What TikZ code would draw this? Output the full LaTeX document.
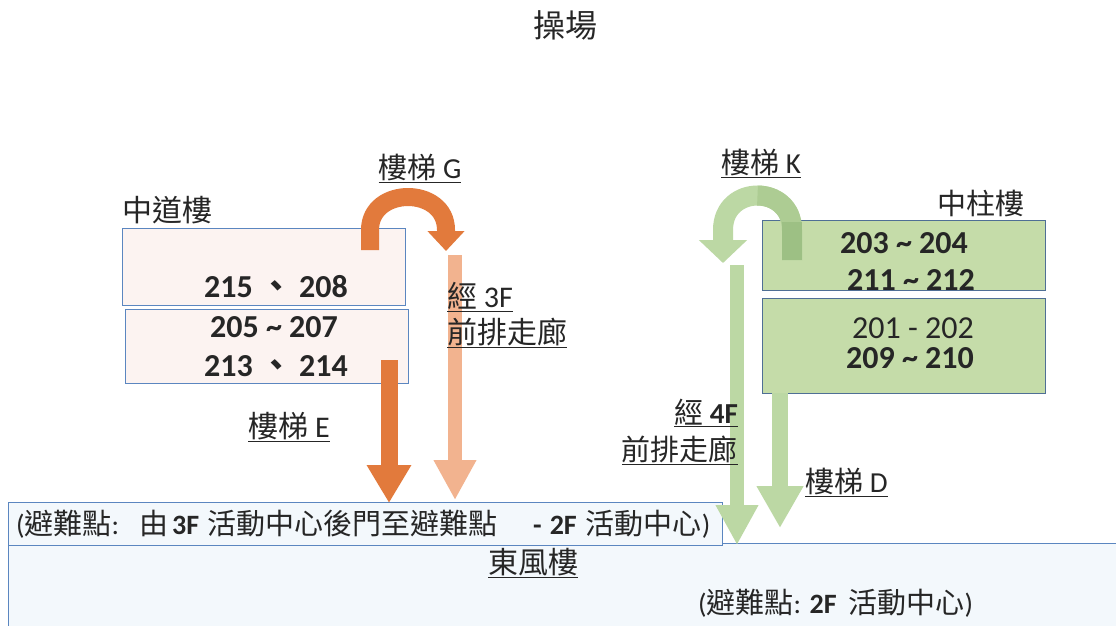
\documentclass[tikz,border=0pt]{standalone}
\usepackage{fontspec}
\setmainfont{Carlito}
\newfontfamily\cjk{Noto Sans CJK TC}
\newcommand\cjt[1]{{\fontsize{29}{30}\selectfont\cjk #1}}
\usetikzlibrary{arrows.meta}
\definecolor{bordblue}{HTML}{5B86C0}
\definecolor{bordgreen}{HTML}{4F6F95}
\definecolor{pinkfill}{HTML}{FCF3F1}
\definecolor{bluefill}{HTML}{F3F8FC}
\definecolor{greenfill}{HTML}{C5DCA9}
\definecolor{orangeD}{HTML}{E27A3C}
\definecolor{orangeL}{HTML}{F2B38F}
\definecolor{greenA}{HTML}{BCD8A4}
\definecolor{greenM}{HTML}{ADCC93}
\definecolor{greenB}{HTML}{9DC084}
\tikzset{
  box/.style={draw=bordblue, line width=1.4pt, inner sep=0pt, anchor=north west},
  gbox/.style={draw=bordgreen, line width=1.4pt, fill=greenfill, inner sep=0pt, anchor=north west},
  num/.style={font=\fontsize{32}{33}\selectfont\bfseries, inner sep=0pt, text=black!85},
  numr/.style={font=\fontsize{32}{33}\selectfont, inner sep=0pt, text=black!85},
  lbl/.style={font=\fontsize{29}{30}\selectfont, inner sep=0pt, text=black!85},
  lblb/.style={font=\fontsize{30}{31}\selectfont, inner sep=0pt, text=black!85},
  small/.style={font=\fontsize{28}{29}\selectfont, inner sep=0pt, text=black!85},
}
\begin{document}
\begin{tikzpicture}[x=1pt,y=-1pt]
\useasboundingbox (0,0) rectangle (1116,625);
\fill[white] (0,0) rectangle (1116,625);

% title
\node[font=\fontsize{32}{33}\selectfont, inner sep=0pt, text=black!85] (field) at (565,25) {\cjk 操場};

% Zhongdao building
\node[lblb, anchor=west] (zdlbl) at (122,210) {\cjk 中道樓};
\node[box, fill=pinkfill, minimum width=283pt, minimum height=77pt] (zdA) at (122,228) {};
\node[box, fill=pinkfill, minimum width=283pt, minimum height=74pt] (zdB) at (125,309) {};
\node[num] (tA) at (276,287) {215 {\cjk 、} 208};
\node[num] (tB1) at (274,327) {205 \textasciitilde\ 207};
\node[num] (tB2) at (276,366) {213 {\cjk 、} 214};

% Zhongzhu building
\node[lbl, anchor=east] (zzlbl) at (1025,203) {\cjk 中柱樓};
\node[gbox, minimum width=283pt, minimum height=70pt] (zzA) at (762,220) {};
\node[gbox, minimum width=283pt, minimum height=95pt] (zzB) at (762,298) {};
\node[num] (tC1) at (904,243) {203 \textasciitilde\ 204};
\node[num] (tC2) at (911,280) {211 \textasciitilde\ 212};
\node[numr] (tD1) at (913,328) {201 - 202};
\node[num] (tD2) at (910,358) {209 \textasciitilde\ 210};

% bottom boxes
\node[box, fill=bluefill, minimum width=1112pt, minimum height=84pt] (east) at (8,543) {};
\node[box, fill=bluefill, minimum width=714pt, minimum height=43pt] (ev1) at (8,502) {};
\node[small, anchor=west] (ev1t) at (16,524) {(\cjt{避難點}:\hspace*{20pt}\cjt{由}\hspace*{4pt}\textbf{3F}\hspace*{8pt}\cjt{活動中心後門至避難點}\hspace*{36pt}\textbf{-}\hspace*{8pt}\textbf{2F}\hspace*{9pt}\cjt{活動中心})};

% coordinates for arrows
\coordinate (gS) at (370,250);
\coordinate (gE) at (446,251);
\coordinate (pS) at (455,255);
\coordinate (pE) at (455,500);
\coordinate (eS) at (389,360);
\coordinate (eE) at (389,503);
\coordinate (kS) at (792,260);
\coordinate (kE) at (723,263);
\coordinate (g1S) at (737,265);
\coordinate (g1E) at (737,545);
\coordinate (g2S) at (780,393);
\coordinate (g2E) at (780,528);

% orange arrows
\draw[orangeD, line width=18pt, -{Triangle[width=36pt,length=20pt]}]
  (gS) -- (370,230) .. controls (370,186) and (446,186) .. (446,230) -- (gE);
\draw[orangeL, line width=14pt, -{Triangle[width=40pt,length=40pt]}] (pS) -- (pE);
\draw[orangeD, line width=17pt, -{Triangle[width=42pt,length=38pt]}] (eS) -- (eE);

% green arrows
\draw[greenA, line width=20pt, -{Triangle[width=47pt,length=23pt]}]
  (kS) -- (792,230) .. controls (792,184) and (723,184) .. (723,230) -- (kE);
\draw[greenM, line width=20pt]
  (kS) -- (792,230) .. controls (792,207) and (774.75,195.5) .. (757.5,195.5);
\draw[greenB, line width=20pt] (kS) -- (792,222);
\draw[greenA, line width=14pt, -{Triangle[width=40pt,length=40pt]}] (g1S) -- (g1E);
\draw[greenA, line width=16pt, -{Triangle[width=44pt,length=42pt]}] (g2S) -- (g2E);

% labels (drawn over the arrows)
\node[lblb] (eastlbl) at (533,563) {\underline{\cjk 東風樓}};
\node[small, anchor=west] (ev2t) at (698,603) {(\cjt{避難點}: \textbf{2F}\hspace*{12pt}\cjt{活動中心})};
\node[lbl] (lG) at (420,168) {\underline{{\cjk 樓梯} G}};
\node[lblb, anchor=west] (l3a) at (447,297) {\underline{{\cjk 經} 3F}};
\node[lblb, anchor=west] (l3b) at (447,333) {\underline{\cjk 前排走廊}};
\node[lblb] (lE) at (289,427) {\underline{{\cjk 樓梯} E}};
\node[lbl] (lK) at (761,163) {\underline{{\cjk 樓梯} K}};
\node[lbl, anchor=east] (l4a) at (738,413) {\underline{{\cjk 經} \textbf{4F}}};
\node[lbl, anchor=east] (l4b) at (738,450) {\underline{\cjk 前排走廊}};
\node[lbl, anchor=west] (lD) at (805,482) {\underline{{\cjk 樓梯} D}};
\end{tikzpicture}
\end{document}
